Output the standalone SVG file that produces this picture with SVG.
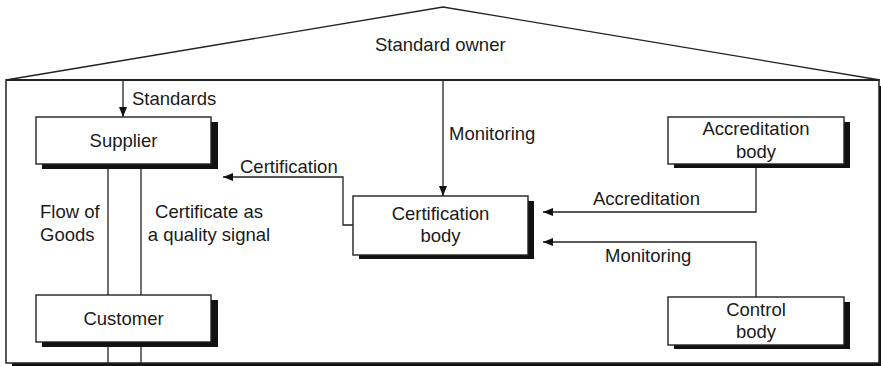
<svg xmlns="http://www.w3.org/2000/svg" width="881" height="366" viewBox="0 0 881 366">
<style>
text{font-family:"Liberation Sans",Arial,sans-serif;font-size:18.5px;fill:#1a1a1a}
.c{text-anchor:middle}
.box{fill:#fff;stroke:#222;stroke-width:1.4}
.shadow{fill:#111}
.ln{fill:none;stroke:#222;stroke-width:1.3}
</style>
<defs>
<marker id="ah" viewBox="0 0 10 8" refX="10" refY="4" markerWidth="10" markerHeight="8" markerUnits="userSpaceOnUse" orient="auto">
<path d="M0,0 L10,4 L0,8 Z" fill="#111"/>
</marker>
</defs>
<rect width="881" height="366" fill="#fff"/>
<g id="house">
<rect x="12" y="86" width="869" height="280" class="shadow"/>
<rect x="6" y="80" width="873" height="283" fill="#fff" stroke="#222" stroke-width="1.5"/>
<line x1="6" y1="80" x2="879" y2="80" stroke="#222" stroke-width="2"/>
<polyline points="6,80 443,7 880,80" class="ln" stroke-width="1.6"/>
<text x="375" y="51">Standard owner</text>
</g>
<g id="connectors">
<line x1="123" y1="80" x2="123" y2="117" class="ln" marker-end="url(#ah)"/>
<line x1="443" y1="80" x2="443" y2="196" class="ln" marker-end="url(#ah)"/>
<polyline points="353,225 343,225 343,177 223,177" class="ln" marker-end="url(#ah)"/>
<polyline points="756,164 756,212 543,212" class="ln" marker-end="url(#ah)"/>
<polyline points="756,297 756,242 543,242" class="ln" marker-end="url(#ah)"/>
<line x1="108" y1="164" x2="108" y2="295" class="ln"/>
<line x1="141" y1="164" x2="141" y2="295" class="ln"/>
<line x1="108" y1="342" x2="108" y2="366" class="ln"/>
<line x1="141" y1="342" x2="141" y2="366" class="ln"/>
<text x="132" y="105">Standards</text>
<text x="449" y="140">Monitoring</text>
<text x="240" y="173">Certification</text>
<text x="593" y="205">Accreditation</text>
<text x="605" y="262">Monitoring</text>
<text x="40" y="218">Flow of</text>
<text x="40" y="241">Goods</text>
<text x="209" y="218" class="c">Certificate as</text>
<text x="209" y="241" class="c">a quality signal</text>
</g>
<g id="supplier">
<rect x="42" y="122" width="176" height="47" class="shadow"/>
<rect x="36" y="117" width="175" height="47" class="box"/>
<text x="123.5" y="147" class="c">Supplier</text>
</g>
<g id="customer">
<rect x="42" y="300" width="176" height="47" class="shadow"/>
<rect x="36" y="295" width="175" height="47" class="box"/>
<text x="123.5" y="325" class="c">Customer</text>
</g>
<g id="certification-body">
<rect x="359" y="201" width="175" height="58" class="shadow"/>
<rect x="353" y="196" width="175" height="59" class="box"/>
<text x="440.5" y="220" class="c">Certification</text>
<text x="440.5" y="242" class="c">body</text>
</g>
<g id="accreditation-body">
<rect x="674" y="122" width="176" height="46" class="shadow"/>
<rect x="668" y="117" width="176" height="47" class="box"/>
<text x="756" y="135" class="c">Accreditation</text>
<text x="756" y="158" class="c">body</text>
</g>
<g id="control-body">
<rect x="674" y="302" width="176" height="47" class="shadow"/>
<rect x="668" y="297" width="176" height="48" class="box"/>
<text x="756" y="316" class="c">Control</text>
<text x="756" y="338" class="c">body</text>
</g>
</svg>
